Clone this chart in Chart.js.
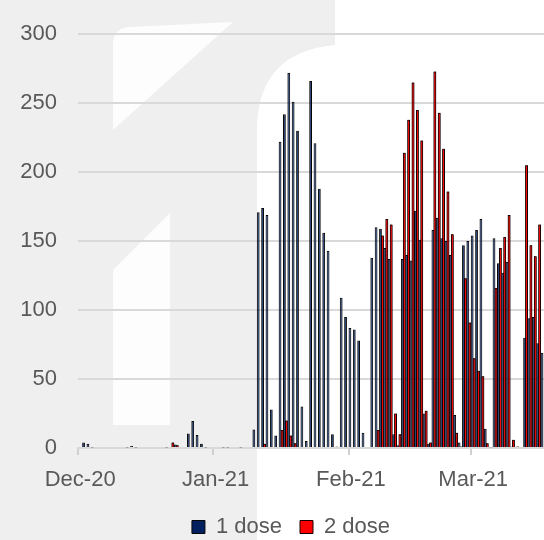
<!DOCTYPE html>
<html>
<head>
<meta charset="utf-8">
<script src="https://cdn.jsdelivr.net/npm/chart.js@4.4.1/dist/chart.umd.min.js"></script>
<style>
  html, body { margin: 0; padding: 0; overflow: hidden; background: #fff; }
  #wrap { position: relative; width: 544px; height: 540px; overflow: hidden; }
  #bg, #c { position: absolute; left: 0; top: 0; }
</style>
</head>
<body>
<div id="wrap">
  <!-- faint watermark behind the chart -->
  <svg id="bg" width="544" height="540" xmlns="http://www.w3.org/2000/svg">
    <rect width="544" height="540" fill="#ffffff"/>
    <path fill="#efefef" d="M0,0 H335 V45 Q260,52 257,125 V540 H0 Z"/>
    <path fill="#fdfdfd" d="M113,130 V45 Q113,28 130,27 L233,22 Z"/>
    <path fill="#fdfdfd" d="M113,270 L170,213 V425 H113 Z"/>
  </svg>
  <canvas id="c" width="590" height="548"></canvas>
</div>
<script>
// days from 1 Dec 2020, one bar pair per day
var firstDay = new Date(2020, 11, 1);
var dayCount = 115;
var monthTicks = ['Dec-20', 'Jan-21', 'Feb-21', 'Mar-21', 'Apr-21'];
var seriesNames = ['1 dose', '2 dose'];

var dose1 = [
    0, 4, 3, 0.4, 0, 0, 0, 0, 0, 0,
    0, 0.4, 1.5, 0.4, 0, 0, 0, 0, 0, 0,
    0.4, 0.8, 2.5, 0, 0, 10.5, 19.5, 9.5, 3, 0.4,
    0, 0, 0.8, 0.4, 0.4, 0, 0, 0.3, 0, 0,
    13.5, 171, 174, 169, 28, 9, 222, 242, 272, 251,
    230, 30, 5, 266, 221, 188, 156, 143, 10, 1,
    109, 95, 87, 86, 78, 11, 0, 138, 160, 159,
    145, 137, 10, 2, 137, 140, 136, 172, 151, 25,
    3, 158, 167, 152, 150, 140, 24, 4, 147, 150,
    154, 158, 166, 14, 0.5, 152, 134, 127, 135, 1,
    0.5, 0, 80, 94, 95, 76, 69
];

var dose2 = [
    0, 0, 0, 0, 0, 0, 0, 0, 0, 0,
    0, 0, 0, 0, 0, 0, 0, 0, 0, 0,
    0, 4, 2, 0, 0, 0, 0, 0, 0, 0,
    0, 0, 0, 0, 0, 0, 0, 0, 0, 0,
    0, 0, 3, 0, 0, 0, 13, 20, 9, 3.5,
    0, 0, 0, 0, 0, 0, 0, 0, 0, 0,
    0, 0, 0, 0, 0, 0, 0, 0, 13, 154,
    166, 162, 25, 10, 214, 238, 265, 245, 223, 27,
    4, 273, 243, 217, 186, 155, 11, 1, 123, 91,
    65, 56, 52, 3.5, 0.5, 116, 145, 153, 169, 6,
    1, 0, 205, 147, 139, 162, null
];

function dayAt(index) {
    return new Date(firstDay.getFullYear(), firstDay.getMonth(), firstDay.getDate() + index);
}

var dayLabels = [];
for (var i = 0; i < dayCount; i++) {
    var d = dayAt(i);
    dayLabels.push(d.getDate() + '/' + (d.getMonth() + 1) + '/' + d.getFullYear());
}

var fontFamily = "'Liberation Sans', Arial, sans-serif";
var textColor = '#595959';

// excel draws the 2nd series over the 1st one
var redOnTop = {
    id: 'redOnTop',
    afterDatasetsDraw: function (chart) {
        chart.getDatasetMeta(1).controller.draw();
    }
};

var ctx = document.getElementById('c');
var myChart = new Chart(ctx, {
    type: 'bar',
    data: {
        labels: dayLabels,
        datasets: [
            {
                label: seriesNames[0],
                data: dose1,
                backgroundColor: '#002060',
                borderColor: '#050505',
                borderWidth: 1,
                categoryPercentage: 0.91,
                barPercentage: 1.4
            },
            {
                label: seriesNames[1],
                data: dose2,
                backgroundColor: '#ff0000',
                borderColor: '#1a0000',
                borderWidth: 1,
                categoryPercentage: 0.91,
                barPercentage: 1.4
            }
        ]
    },
    options: {
        responsive: false,
        animation: false,
        layout: { padding: { top: 32, left: 0, right: 8, bottom: 0 } },
        plugins: {
            tooltip: { enabled: false },
            legend: {
                position: 'bottom',
                labels: {
                    boxWidth: 13,
                    boxHeight: 13,
                    padding: 18,
                    color: textColor,
                    font: { size: 22, family: fontFamily }
                }
            }
        },
        scales: {
            x: {
                offset: true,
                grid: {
                    offset: true,
                    drawOnChartArea: false,
                    drawTicks: true,
                    tickLength: 7,
                    lineWidth: 2,
                    // tick marks only at the first day of each month
                    color: function (c) {
                        return dayAt(c.index).getDate() === 1 ? '#d0d0d0' : 'rgba(0,0,0,0)';
                    }
                },
                border: { display: true, color: '#d9d9d9', width: 2 },
                ticks: {
                    autoSkip: false,
                    maxRotation: 0,
                    padding: 12,
                    color: textColor,
                    font: { size: 22, family: fontFamily },
                    callback: function (value, index) {
                        var d = dayAt(index);
                        if (d.getDate() !== 1) return '';
                        var m = (d.getFullYear() - firstDay.getFullYear()) * 12 + d.getMonth() - firstDay.getMonth();
                        return monthTicks[m];
                    }
                },
                afterFit: function (scale) { scale.height = 50; }
            },
            y: {
                min: 0,
                max: 300,
                ticks: {
                    stepSize: 50,
                    padding: 21,
                    color: textColor,
                    font: { size: 22, family: fontFamily }
                },
                grid: { color: '#d9d9d9', lineWidth: 2, drawTicks: false },
                border: { display: false },
                afterFit: function (scale) { scale.width = 78; }
            }
        }
    },
    plugins: [redOnTop]
});
</script>
</body>
</html>
